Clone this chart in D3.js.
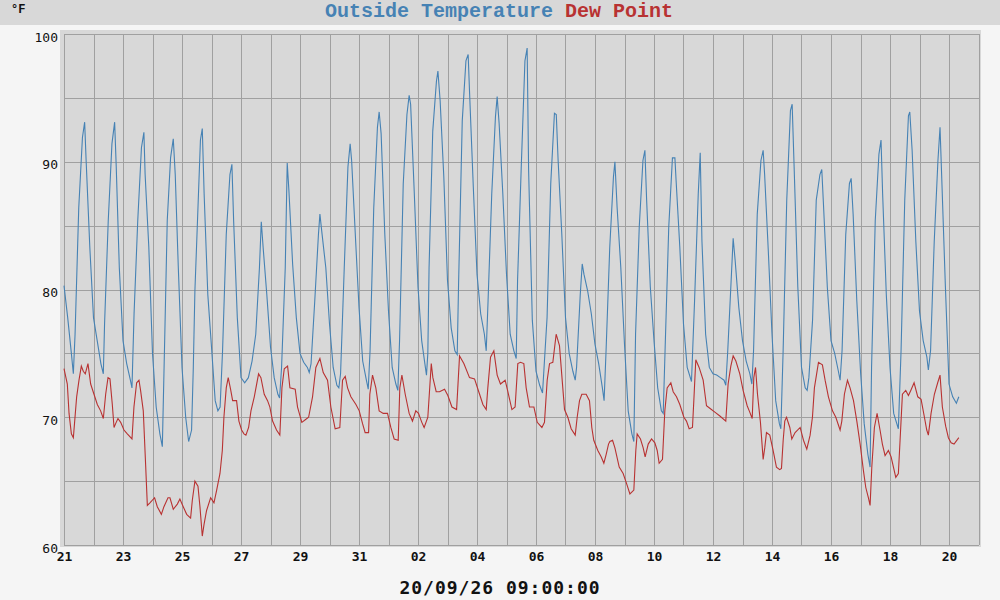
<!DOCTYPE html>
<html>
<head>
<meta charset="utf-8">
<script src="https://cdn.jsdelivr.net/npm/d3@7"></script>
<style>
  body { margin: 0; background: #f5f5f5; }
  svg { display: block; }
</style>
</head>
<body>
<div id="chart"></div>
<script>
// data: hours since 21 Aug 00:00, values in °F
var startDate = new Date(2026, 7, 21, 0, 0, 0);
var endDate = new Date(2026, 8, 21, 0, 0, 0);

var tempHours = [0,3,6,7.6,9,12,15,16.8,18,21,
  24,27,30,32,33,36,39,41.2,42.5,45,
  48,51,54,55.3,57,60,63,65,66,69,
  72,75,78,80,81.9,84,86.7,88.9,90.5,93,
  96,99,101.4,103.8,105.2,106.5,108,111,112.5,114,117,
  120,123,125.2,127,129,132,135,136.6,138,141,
  144,147,150,153,156,159,160.5,162,165,168,
  171,174,175.4,177,180,181.6,183,186,189,192,
  195,198,199.5,201,204,207,208.2,210,213,216,
  219,222,223.6,225,228,231,232.8,234,237,240,
  243,246,247.5,249,252,255,256.4,258,261,264,
  267,270,271.6,273,276,279,280.8,282,285,288,
  291,294,294.9,296,297,300,303,304.2,306,309,312,
  315,318,319.9,321,324,327,328.8,330,333,336,
  339,342,343.5,345,348,351,352.4,354,357,360,
  363,366,367.9,369,372,375,376.8,378,381,384,
  387,389.3,393,396,399,400.5,402,405,408,
  411,414,415.9,417,420,421.6,423,426,429,432,
  435,438,439.4,441,444,447,448.2,450,453,456,
  459,462,463.6,465,468,471,472.6,474,477,480,
  483,486,487.5,489,492,495,497,498,501,504,
  507,510.5,513,516,517.6,519,522,525,
  528,531,534,537,538.4,540,543,544.4,546,549,552,
  555,558,559.6,561,564,567,568.8,570,573,576,
  579,582,583.2,585,588,591,592.4,594,597,
  600,603,604.6,606,609,612,615,616.5,618,621,624,
  627,630,631.4,633,636,639,640.4,642,645,
  648,651,654,655.8,657,660,663,664.7,666,669,672,
  675,678.8,681,684,687,688.1,690,693,696,
  699,702,703.2,705,708,711,712.7,714,717,720,
  723,726,728];

var tempValues = [80.3,77.8,75,73.4,76.5,86.4,91.9,93.1,90.1,83.3,
  77.8,76,74.2,73.4,77.3,85.4,91.4,93.1,89.6,81.7,
  76,74.2,72.9,72.3,78.1,85.4,91.1,92.3,89,83.3,
  75,70.8,68.7,67.7,76,85.4,90.3,91.8,89,81.7,
  73.9,70,68.1,69,73.9,79.9,83.8,91.7,92.6,87.5,79.6,
  75.5,71.3,70.5,70.8,75.2,84.3,89,89.8,85.4,77.8,
  73.1,72.7,73.1,74.4,76.5,81.7,85.3,83.3,79.6,75.5,
  73.1,71.8,71.5,73.9,81.7,89.9,87.7,82,77.8,75,
  74.3,73.9,73.5,74.2,79.1,84.3,85.9,84.3,81.7,77.3,
  73.9,72.5,72.3,73.4,81.7,89.6,91.4,90.1,84.3,78.6,
  74.4,72.9,72.2,75.2,86.4,92.7,93.9,92.2,84.3,78.3,
  73.9,72.6,72.1,76,88.3,93.7,95.2,94.5,87.5,80.2,
  76,73.9,73.3,75,81.7,92.4,96.3,97.1,94.8,88.8,80.7,
  77,75.2,74.9,80.4,93.2,97.9,98.4,95.3,88,81.2,
  78.1,76.5,75.2,79.1,87.5,93.5,95.1,93,87.5,81.2,
  76.5,75.2,74.6,80.7,89.6,97.9,98.9,89.3,77.6,73.6,
  72.5,71.9,77.8,88.3,93.8,93.7,90.1,84.3,77.8,
  75,73.6,72.9,73.9,79.6,82,81.2,79.9,78.1,75.7,
  74.2,72.3,71.3,75.2,83.3,88.8,90,86.4,81.7,75.7,
  70.5,68.7,68.1,76.5,84.9,90.1,90.9,87,80.2,76,
  72.3,70.5,70.3,75.2,84.9,90.3,90.3,88.5,83.3,77.3,
  73.9,72.8,79.1,87.5,90.7,83.8,76.5,73.9,
  73.4,73.3,73.1,72.9,72.5,75.2,81.2,84,82.3,78.6,76,
  74.4,73.4,72.6,75.2,85.9,90.1,90.9,89,83,76.5,
  71.3,69.5,69.1,75,87,94,94.5,89.6,80.2,
  73.9,72.3,72.1,73.1,77.6,87,89,89.4,86.4,80.2,76,
  75,73.6,72.9,75.2,84.3,88.3,88.7,85.9,79.1,
  73.6,69.5,67.1,66.1,73.9,85.4,90.6,91.7,87.5,79.6,73.9,
  70.3,69.1,75.2,87,93.6,93.9,90.9,83.8,78.3,
  76,74.7,73.7,75.2,83.8,90.1,92.7,89,80.4,72.6,
  71.6,71.1,71.6];

var dewHours = [0,2.7,4.1,6,7.6,8.7,10.3,12.2,14.1,15.7,17.3,19.5,21.7,24.4,27.1,29.8,32,33.9,35.8,37.4,
  39.3,40.7,42,43.9,46.1,48.8,51.5,55.3,56.9,59.1,61,62.3,64.5,66.4,67.8,69.9,73.7,75.9,79.2,81.3,
  84.6,86.2,88.9,92.2,94.3,97,99.8,103,104.4,106.5,109,110.6,112.5,113.9,116,119.3,122,124.2,126.9,128.8,
  130.1,132,133.6,135.5,137.2,140.4,142.3,144.5,146.4,
  148,150.2,152.1,154.8,158.3,160.2,162.9,165.6,167.5,169.7,172.9,175.6,177.3,179.2,181.9,183.8,188.1,190,193.5,196.3,
  199,202.2,204.9,208.2,210.9,214.4,217.1,220.6,224.4,226.6,228.8,230.7,233.4,237.5,240.2,242.9,245,247.8,248.8,251,
  253.7,256.4,259.7,263.2,265.9,268.6,271.9,273.2,274.9,277.6,280.8,283.5,286.2,288.4,291.1,293,
  296,298.8,300.1,302.8,305.5,309.6,312.3,315.6,319.4,321.8,325.3,329.9,334,338.1,340.8,343.5,344.8,347,349.7,352.4,
  355.1,358.9,361.1,364.4,367,369.2,371.4,374.1,376,378.7,382.3,385,388.8,390.9,393.1,395,397.7,400.4,403.1,405.8,
  407.2,409.9,412.6,415.9,417.5,419.4,421.3,424.8,427.5,429.4,431,434.3,437,439.2,441.1,443,
  444.1,446.3,448.2,451.7,454.9,457.7,460.4,463.6,465.2,466.3,469,471.2,472.8,475.3,478,480.7,482.6,484.2,486.9,488.8,
  490.7,493.7,495.6,498.3,501,504.3,506.4,508.6,511.3,512.4,514,516.7,520,522.7,525.4,529.5,533.6,538.4,540.3,542.5,
  544.4,546.6,549.8,552.5,555.8,557.9,559.9,561.2,562.6,564.2,566.6,568.8,570.1,571.5,574.2,576.9,579.6,582.3,583.7,585.1,
  586.4,587.8,590.5,
  592.1,594.8,598.9,601.6,604.3,607,608.9,610.5,613.8,617,619.2,621.9,625.2,627.9,631.4,632.8,634.9,637.4,639.5,642.3,
  645,647.7,650.4,652.3,654.4,655.8,657.2,659.3,661.5,663.9,665.8,668,670.7,672.9,674.8,676.7,678.8,680.2,682.1,684.8,
  687,688.9,691.6,694.6,697.3,700,701.9,703.2,705.4,708.1,710.8,712.7,714.6,717.3,719.5,721.7,724.1,728];

var dewValues = [73.8,72.6,70.3,68.7,68.4,69.7,71.6,72.9,74,73.6,73.4,74.2,72.6,71.8,71,70.5,69.9,71.8,73.1,73,
  71,69.2,69.5,69.9,69.6,69,68.7,68.3,70.8,72.7,72.9,72.1,70.5,66.3,63.1,63.3,63.7,63,62.4,63,
  63.7,63.7,62.8,63.2,63.6,63,62.4,62.1,63.5,65,64.6,63,60.7,61.6,62.7,63.7,63.3,64.3,65.6,67.4,
  70,72.3,73.1,72.2,71.3,71.3,69.7,69,68.7,
  68.6,69.2,70.5,71.6,73.4,73.1,71.8,71.3,70.8,69.7,69,68.6,72.3,73.8,74,72.3,72.2,70.8,69.6,69.8,
  70,71.6,73.9,74.6,73.5,72.9,70.8,69.1,69.2,72.9,73.2,72.3,71.6,71,70.5,69.5,68.8,68.8,71.8,73.3,
  72.3,70.5,70.3,70.3,69.2,68.3,68.2,72.3,73.3,71.8,70.3,69.7,70.5,70.3,69.6,69.2,
  70,74.2,73.1,72,72,72.2,71.7,70.8,70.6,74.8,74.2,73.1,73,71.8,71,70.6,72.3,74.7,75.2,73.3,
  72.6,72.9,72,70.6,70.8,74.2,74.3,74.2,72.3,70.8,70.8,69.6,69.2,69.6,72.9,74.2,74.3,76.5,75.6,72.3,
  70.6,70,69.1,68.6,70,71.3,71.8,71.8,71.3,69.2,68.2,67.4,66.9,66.4,67.1,67.9,
  68.1,68.2,67.6,66.1,65.6,64.8,64,64.3,67.4,68.7,68.3,67.6,66.9,67.9,68.3,68,67.4,66.4,66.7,70.5,
  72.3,72.7,72,71.6,71,70,69.7,69.1,69.2,71.3,74.5,73.9,72.9,70.9,70.7,70.4,70.1,69.7,72.6,74,
  74.8,74.4,73.4,72.1,70.9,70.4,69.9,73.1,73.9,71.8,69.6,66.7,67.6,68.8,68.6,67.4,66.1,65.9,66,68.2,
  69.7,70,69.2,
  68.3,68.8,69.2,68.2,67.5,68.6,70,72.3,74.3,74.1,72.9,71.6,70.5,70,69,69.7,71.8,72.9,72.3,71.3,
  69.7,67.9,65.8,64.5,63.7,63.1,66.1,69.2,70.3,69,67.9,67,67.4,66.9,66.1,65.3,65.6,68.2,71.8,72.1,
  71.7,72.1,72.7,71.6,71.4,70,69,68.6,70.3,71.8,72.7,73.3,70.8,69.3,68.4,68,67.9,68.4];

var xTickDays = [21,23,25,27,29,31,2,4,6,8,10,12,14,16,18,20];
var yTicks = [60,70,80,90,100];

var tempColor = "#4682b4",
    dewColor = "#b83232";

// page geometry
var width = 1000, height = 600;
var plot = {left: 64, right: 978.5, top: 34, bottom: 545};

var svg = d3.select("#chart")
  .append("svg")
    .attr("width", width)
    .attr("height", height);

svg.append("rect")
  .attr("width", width).attr("height", height)
  .attr("fill", "#f5f5f5");

// title band
svg.append("rect")
  .attr("width", width).attr("height", 25)
  .attr("fill", "#d8d8d8");

// plot background
svg.append("rect")
  .attr("x", 60).attr("y", 30)
  .attr("width", 921).attr("height", 517)
  .attr("fill", "#d8d8d8");

var x = d3.scaleTime()
  .domain([startDate, endDate])
  .range([plot.left, plot.right]);

var y = d3.scaleLinear()
  .domain([60, 100])
  .range([plot.bottom, plot.top]);

// grid
var grid = svg.append("g")
  .attr("stroke", "#a0a0a0")
  .attr("stroke-width", 1)
  .attr("shape-rendering", "crispEdges");

grid.selectAll("line.v")
  .data(d3.timeDay.range(startDate, d3.timeDay.offset(endDate, 1)))
  .enter().append("line")
    .attr("x1", function(d) { return Math.round(x(d)) + 0.5; })
    .attr("x2", function(d) { return Math.round(x(d)) + 0.5; })
    .attr("y1", plot.top).attr("y2", plot.bottom);

grid.selectAll("line.h")
  .data(d3.range(60, 101, 5))
  .enter().append("line")
    .attr("x1", plot.left).attr("x2", plot.right)
    .attr("y1", function(d) { return Math.round(y(d)) + 0.5; })
    .attr("y2", function(d) { return Math.round(y(d)) + 0.5; });

// x axis labels
var xTickDates = xTickDays.map(function(d, i) {
  return d3.timeDay.offset(startDate, i * 2);
});
var xAxis = svg.append("g")
  .attr("transform", "translate(0," + plot.bottom + ")")
  .call(d3.axisBottom(x)
    .tickValues(xTickDates)
    .tickFormat(function(d, i) { return (xTickDays[i] < 10 ? "0" : "") + xTickDays[i]; })
    .tickSize(0)
    .tickPadding(7));
xAxis.select(".domain").remove();
xAxis.selectAll("text")
  .attr("font-family", "DejaVu Sans Mono")
  .attr("font-size", 13)
  .attr("font-weight", "bold")
  .attr("fill", "#111");

// y axis labels
var yAxis = svg.append("g")
  .attr("transform", "translate(58,0)")
  .call(d3.axisLeft(y).tickValues(yTicks).tickSize(0).tickPadding(0));
yAxis.select(".domain").remove();
yAxis.selectAll("text")
  .attr("dy", "0.55em")
  .attr("font-family", "DejaVu Sans Mono")
  .attr("font-size", 13)
  .attr("fill", "#111");

// lines
var tempData = tempHours.map(function(h, i) {
  return {t: d3.timeMinute.offset(startDate, Math.round(h * 60)), v: tempValues[i]};
});
var dewData = dewHours.map(function(h, i) {
  return {t: d3.timeMinute.offset(startDate, Math.round(h * 60)), v: dewValues[i]};
});

var line = d3.line()
  .x(function(d) { return x(d.t); })
  .y(function(d) { return y(d.v); });

svg.append("path")
  .datum(tempData)
  .attr("fill", "none")
  .attr("stroke", tempColor)
  .attr("stroke-width", 1.1)
  .attr("d", line);

svg.append("path")
  .datum(dewData)
  .attr("fill", "none")
  .attr("stroke", dewColor)
  .attr("stroke-width", 1.1)
  .attr("d", line);

// titles
var title = svg.append("text")
  .attr("x", 499).attr("y", 17)
  .attr("text-anchor", "middle")
  .attr("font-family", "Liberation Mono")
  .attr("font-weight", "bold")
  .attr("font-size", 20);
title.append("tspan").attr("fill", tempColor).text("Outside Temperature");
title.append("tspan").attr("fill", dewColor).text(" Dew Point");

svg.append("text")
  .attr("x", 11).attr("y", 13)
  .attr("font-family", "Liberation Mono")
  .attr("font-weight", "bold")
  .attr("font-size", 12)
  .attr("fill", "#111")
  .text("°F");

svg.append("text")
  .attr("x", 500).attr("y", 594)
  .attr("text-anchor", "middle")
  .attr("font-family", "DejaVu Sans Mono")
  .attr("font-weight", "bold")
  .attr("font-size", 18)
  .attr("letter-spacing", 1)
  .attr("fill", "#111")
  .text("20/09/26 09:00:00");
</script>
</body>
</html>
